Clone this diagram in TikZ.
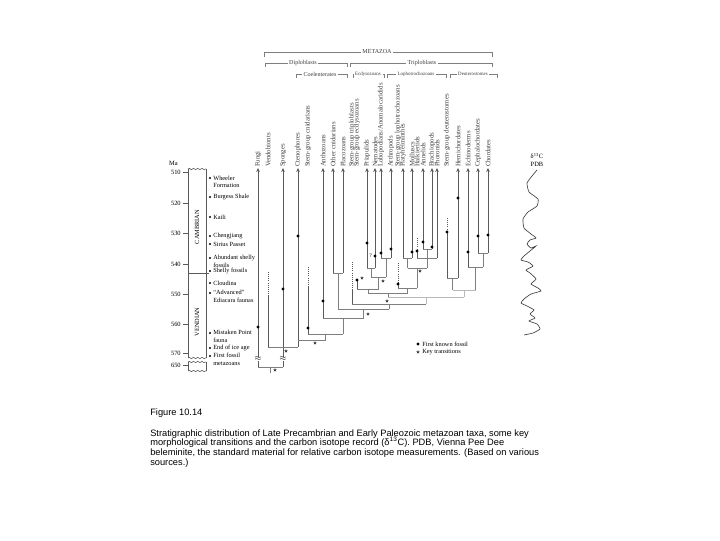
\documentclass[tikz,border=0pt]{standalone}
\usepackage{fontspec}
\setmainfont{Liberation Serif}
\newfontfamily\capfont{Liberation Sans}
\usepackage{xcolor}
\usepackage{tikz}
\usetikzlibrary{arrows.meta, positioning, shapes.geometric, decorations.pathmorphing}
\definecolor{metaInk}{HTML}{3C3C3C}
\definecolor{metaRange}{HTML}{5A5A5A}
\definecolor{metaLink}{HTML}{7E7E7E}
\definecolor{metaPale}{HTML}{B8B8B8}
\tikzset{
  meta/taxon/.style   = {rotate=90, anchor=west, inner sep=0.6pt, text=metaInk,
                         font=\fontsize{4.8}{5}\selectfont},
  meta/range/.style   = {{Stealth[length=1mm,width=0.9mm]}-, line width=0.6pt, draw=metaRange},
  meta/stem/.style    = {line width=0.6pt, draw=metaRange},
  meta/ghost/.style   = {line width=0.6pt, draw=metaRange, dash pattern=on 0.6pt off 0.9pt},
  meta/link/.style    = {line width=0.5pt, draw=metaLink},
  meta/pale/.style    = {line width=0.5pt, draw=metaPale},
  meta/key/.style     = {star, star points=5, star point ratio=2.2, fill=metaInk,
                         inner sep=0pt, minimum size=2.6pt},
  meta/brk/.style     = {fill=white, inner sep=0pt, font=\fontsize{5}{5}\selectfont},
  meta/group/.style   = {inner sep=1pt, text=metaInk, font=\fontsize{4.3}{5}\selectfont},
  meta/subgroup/.style= {inner sep=1pt, text=metaInk, font=\fontsize{3.5}{4}\selectfont},
  meta/brace/.style   = {line width=0.4pt, draw=metaLink},
  meta/axis/.style    = {line width=0.4pt, draw=metaRange},
  meta/wave/.style    = {line width=0.4pt, draw=metaRange, decorate,
                         decoration={snake, amplitude=0.5pt, segment length=3pt}},
  meta/age/.style     = {anchor=east, inner sep=0pt, font=\fontsize{4.6}{5}\selectfont},
  meta/period/.style  = {rotate=90, inner sep=0pt, font=\fontsize{4.5}{5}\selectfont},
  meta/event/.style   = {anchor=west, align=left, inner sep=0pt, font=\fontsize{4.5}{5.3}\selectfont},
  meta/caption/.style = {anchor=north west, align=left, inner sep=0pt,
                         font=\capfont\fontsize{6.6}{6.9}\selectfont},
}

\begin{document}
\begin{tikzpicture}[x=0.025cm, y=-0.025cm, every node/.style={font=\fontsize{4.6}{5}\selectfont}]
  \useasboundingbox[fill=white] (0,0) rectangle (720,540);
  % group brackets
  \node[meta/group] (metazoa) at (377,52) {METAZOA};
  \coordinate (mzL) at (264,57); \coordinate (mzR) at (492,57);
  \draw[meta/brace] (metazoa.west) -| (mzL);
  \draw[meta/brace] (metazoa.east) -| (mzR);
  \node[meta/group] (diplo) at (303,63) {Diploblasts};
  \coordinate (dpL) at (265,67); \coordinate (dpR) at (347,67);
  \draw[meta/brace] (diplo.west) -| (dpL);
  \draw[meta/brace] (diplo.east) -| (dpR);
  \node[meta/group] (triplo) at (422,63) {Triploblasts};
  \coordinate (tpL) at (350,67); \coordinate (tpR) at (492,67);
  \draw[meta/brace] (triplo.west) -| (tpL);
  \draw[meta/brace] (triplo.east) -| (tpR);
  \node[meta/group] (coel) at (320,74) {Coelenterates};
  \coordinate (ceL) at (296,78); \coordinate (ceR) at (347,78);
  \draw[meta/brace] (coel.west) -| (ceL);
  \draw[meta/brace] (coel.east) -| (ceR);
  \node[meta/subgroup] (ecdy) at (368,74) {Ecdysozoans};
  \coordinate (ecL) at (353,78); \coordinate (ecR) at (384,78);
  \draw[meta/brace] (ecdy.west) -| (ecL);
  \draw[meta/brace] (ecdy.east) -| (ecR);
  \node[meta/subgroup] (lopho) at (416,74) {Lophotrochozoans};
  \coordinate (lpL) at (387,78); \coordinate (lpR) at (446,78);
  \draw[meta/brace] (lopho.west) -| (lpL);
  \draw[meta/brace] (lopho.east) -| (lpR);
  \node[meta/subgroup] (deut) at (473,74) {Deuterostomes};
  \coordinate (dtL) at (450,78); \coordinate (dtR) at (497,78);
  \draw[meta/brace] (deut.west) -| (dtL);
  \draw[meta/brace] (deut.east) -| (dtR);

  % taxa
  \node[meta/taxon] (fungi)   at (258,168) {Fungi};
  \node[meta/taxon] (vendo)   at (268,168) {Vendobionts};
  \node[meta/taxon] (sponges) at (283,168) {Sponges};
  \node[meta/taxon] (cteno)   at (298,168) {Ctenophores};
  \node[meta/taxon] (scnid)   at (308,168) {Stem-group cnidarians};
  \node[meta/taxon] (antho)   at (323,168) {Anthozoans};
  \node[meta/taxon] (ocnid)   at (333,168) {Other cnidarians};
  \node[meta/taxon] (placo)   at (343,168) {Placozoans};
  \node[meta/taxon] (strip)   at (352,168) {Stem-group triploblasts};
  \node[meta/taxon] (secdy)   at (357,168) {Stem-group ecdysozoans};
  \node[meta/taxon] (priap)   at (367,168) {Priapulids};
  \node[meta/taxon] (nemat)   at (375,168) {Nematodes};
  \node[meta/taxon] (lobop)   at (381,168) {Lobopodians/Anomalocaridids};
  \node[meta/taxon] (arthr)   at (391,168) {Arthropods};
  \node[meta/taxon] (sloph)   at (398,168) {Stem-group lophotrochozoans};
  \node[meta/taxon] (platy)   at (403,168) {Platyhelminthes};
  \node[meta/taxon] (mollu)   at (412,168) {Molluscs};
  \node[meta/taxon] (halki)   at (417,168) {Halkieriids};
  \node[meta/taxon] (annel)   at (423,168) {Annelids};
  \node[meta/taxon] (brach)   at (432,168) {Brachiopods};
  \node[meta/taxon] (phoro)   at (437,168) {Phoronids};
  \node[meta/taxon] (sdeut)   at (447,168) {Stem-group deuterostomes};
  \node[meta/taxon] (hemic)   at (458,168) {Hemichordates};
  \node[meta/taxon] (echin)   at (468,168) {Echinoderms};
  \node[meta/taxon] (cepha)   at (478,168) {Cephalochordates};
  \node[meta/taxon] (chord)   at (488,168) {Chordates};

  % ranges of living groups
  \draw[meta/range] (fungi.west)   -- (258,367);
  \draw[meta/range] (sponges.west) -- (283,367);
  \draw[meta/range] (cteno.west)   -- (298,347);
  \draw[meta/range] (antho.west)   -- (323,318);
  \draw[meta/range] (ocnid.west)   -- (333,273);
  \draw[meta/range] (placo.west)   -- (343,273);
  \draw[meta/range] (priap.west)   -- (367,268);
  \draw[meta/range] (nemat.west)   -- (375,268);
  \draw[meta/range] (lobop.west)   -- (381,258);
  \draw[meta/range] (arthr.west)   -- (391,258);
  \draw[meta/range] (platy.west)   -- (403,258);
  \draw[meta/range] (mollu.west)   -- (412,258);
  \draw[meta/range] (annel.west)   -- (423,249);
  \draw[meta/range] (brach.west)   -- (432,249);
  \draw[meta/range] (phoro.west)   -- (437,258);
  \draw[meta/range] (hemic.west)   -- (458,278);
  \draw[meta/range] (echin.west)   -- (468,267);
  \draw[meta/range] (cepha.west)   -- (478,253);
  \draw[meta/range] (chord.west)   -- (488,253);
  % extinct stem groups
  \draw[meta/ghost] (268,272) -- (268,295); \draw[meta/stem] (268,295) -- (268,347);
  \draw[meta/ghost] (308,267) -- (308,287); \draw[meta/stem] (308,287) -- (308,334);
  \draw[meta/ghost] (352,262) -- (352,290); \draw[meta/stem] (352,290) -- (352,304);
  \draw[meta/stem]  (357,280) -- (357,289);
  \draw[meta/ghost] (398,263) -- (398,284); \draw[meta/stem] (398,284) -- (398,288);
  \draw[meta/ghost] (417,238) -- (417,251); \draw[meta/stem] (417,251) -- (417,258);
  \draw[meta/ghost] (447,218) -- (447,232); \draw[meta/stem] (447,232) -- (447,278);

  % branching
  \draw[meta/link] (367,268) -- (375,268) (371,268) -- (371,277)
                   (381,258) -- (391,258) (386,258) -- (386,277)
                   (371,277) -- (386,277) (378.5,277) -- (378.5,289)
                   (357,289) -- (378.5,289) (368,289) -- (368,293);
  \draw[meta/link] (403,258) -- (412,258) (407.5,258) -- (407.5,268)
                   (423,249) -- (432,249) (427.5,249) -- (427.5,258)
                   (417,258) -- (437,258) (427,258) -- (427,268)
                   (407.5,268) -- (427,268) (417,268) -- (417,288)
                   (398,288) -- (417,288) (407.5,288) -- (407.5,293)
                   (368,293) -- (407.5,293) (388,293) -- (388,297);
  \draw[meta/link] (447,278) -- (458,278) (452.5,278) -- (452.5,290)
                   (478,253) -- (488,253) (483,253) -- (483,267)
                   (468,267) -- (483,267) (475.5,267) -- (475.5,290);
  \draw[meta/pale] (452.5,290) -- (475.5,290) (464,290) -- (464,297)
                   (388,297) -- (464,297) (426,297) -- (426,304);
  \draw[meta/link] (333,273) -- (343,273) (338,273) -- (338,309)
                   (352,304) -- (426,304) (389,304) -- (389,309)
                   (338,309) -- (389,309) (363.5,309) -- (363.5,318)
                   (323,318) -- (363.5,318) (343,318) -- (343,334)
                   (308,334) -- (343,334) (325.5,334) -- (325.5,340)
                   (298,340) -- (325.5,340)
                   (268,347) -- (298,347)
                   (258,367) -- (283,367) (270.5,367) -- (270.5,373);
  \node[meta/brk] (brkF) at (258,359) {$\approx$};
  \node[meta/brk] (brkS) at (283,359) {$\approx$};

  % first known fossils
  \fill[black] (258,327) circle (1.2pt) (283,289) circle (1.2pt) (298,236) circle (1.2pt)
               (308,328) circle (1.2pt) (323,301) circle (1.2pt) (357,280) circle (1.2pt)
               (367,243) circle (1.2pt) (375,256) circle (1.2pt) (381,253) circle (1.2pt)
               (391,249) circle (1.2pt) (398,284) circle (1.2pt) (412,252) circle (1.2pt)
               (417,251) circle (1.2pt) (423,242) circle (1.2pt) (432,247) circle (1.2pt)
               (447,232) circle (1.2pt) (458,198) circle (1.2pt) (468,252) circle (1.2pt)
               (478,236) circle (1.2pt) (488,235) circle (1.2pt);
  \node[font=\fontsize{4}{4}\selectfont, inner sep=0pt] (query) at (370.5,256) {?};
  % key transitions
  \node[meta/key] (k1) at (275,370) {};
  \node[meta/key] (k2) at (286,351) {};
  \node[meta/key] (k3) at (315,343) {};
  \node[meta/key] (k4) at (368,314) {};
  \node[meta/key] (k5) at (387,301) {};
  \node[meta/key] (k6) at (362,278) {};
  \node[meta/key] (k7) at (383,281) {};
  \node[meta/key] (k8) at (420,271) {};

  % time scale
  \node[meta/age] (ma) at (178,163) {Ma};
  \node[meta/age] (a510) at (181,172) {510};
  \node[meta/age] (a520) at (181,203) {520};
  \node[meta/age] (a530) at (181,233) {530};
  \node[meta/age] (a540) at (181,264) {540};
  \node[meta/age] (a550) at (181,294) {550};
  \node[meta/age] (a560) at (181,324) {560};
  \node[meta/age] (a570) at (181,353) {570};
  \node[meta/age] (a650) at (181,365) {650};
  \draw[meta/axis] (183,172) -- (188,172) (183,203) -- (188,203) (183,233) -- (188,233)
                   (183,264) -- (188,264) (183,294) -- (188,294) (183,324) -- (188,324)
                   (183,353) -- (188,353) (183,365) -- (188,365);
  \draw[meta/axis] (188,169) -- (188,358) (206,169) -- (206,358)
                   (188,362) -- (188,371) (206,362) -- (206,371)
                   (188,273) -- (209,273);
  \draw[meta/wave] (188,169) -- (206,169);
  \draw[meta/wave] (188,358) -- (206,358);
  \draw[meta/wave] (188,362) -- (206,362);
  \draw[meta/wave] (188,371) -- (206,371);
  \node[meta/period] (camb) at (197,227) {CAMBRIAN};
  \node[meta/period] (vend) at (197,322) {VENDIAN};

  % events
  \fill[black] (210,178) circle (0.8pt) (210,197) circle (0.8pt) (210,217) circle (0.8pt)
               (210,236) circle (0.8pt) (210,244) circle (0.8pt) (210,258) circle (0.8pt)
               (210,271) circle (0.8pt) (210,283) circle (0.8pt) (210,293) circle (0.8pt)
               (210,333) circle (0.8pt) (210,348) circle (0.8pt) (210,356) circle (0.8pt);
  \node[meta/event] (wheeler) at (213,182) {Wheeler\\Formation};
  \node[meta/event] (burgess) at (213,197) {Burgess Shale};
  \node[meta/event] (kaili)   at (213,217) {Kaili};
  \node[meta/event] (cheng)   at (213,236) {Chengjiang};
  \node[meta/event] (sirius)  at (213,244) {Sirius Passet};
  \node[meta/event] (abund)   at (213,261.5) {Abundant shelly\\fossils};
  \node[meta/event] (shelly)  at (213,271) {Shelly fossils};
  \node[meta/event] (cloud)   at (213,283) {Cloudina};
  \node[meta/event] (advanc)  at (213,296.5) {``Advanced''\\Ediacara faunas};
  \node[meta/event] (mistak)  at (213,336.5) {Mistaken Point\\fauna};
  \node[meta/event] (iceage)  at (213,348) {End of ice age};
  \node[meta/event] (firstf)  at (213,359.5) {First fossil\\metazoans};

  % carbon isotope record
  \node[inner sep=0pt] (d13c) at (537,156) {δ\textsuperscript{13}C};
  \node[inner sep=0pt] (pdb)  at (537,164) {PDB};
  \draw[metaInk, line width=0.45pt] plot[smooth, tension=0.3] coordinates {
    (537,170) (532,176) (527,183) (529,192) (538,199) (537,206) (528,212) (523,219)
    (524,228) (531,234) (536,238) (530,240) (527,244) (531,248) (536,246) (530,251)
    (524,256) (521,260) (528,262) (533,266) (526,270) (530,273) (536,279) (531,284)
    (538,288) (541,291) (531,294) (524,299) (521,303) (527,306) (534,310) (530,314)
    (535,318) (529,321) (537,324) (540,329) (533,333) (524,335)};

  % legend
  \fill[black] (418,344) circle (1.2pt);
  \node[meta/event] (lgfossil) at (422,344) {First known fossil};
  \node[meta/key] (lgstar) at (418,352) {};
  \node[meta/event] (lgkey) at (422,352) {Key transitions};

  % caption
  \node[anchor=west, inner sep=0pt, font=\capfont\fontsize{6.6}{6.9}\selectfont] (fig) at (150,413) {Figure 10.14};
  \node[meta/caption] (cap) at (150,429)
       {Stratigraphic distribution of Late Precambrian and Early Paleozoic metazoan taxa, some key\\
        morphological transitions and the carbon isotope record (δ\smash{\textsuperscript{13}}C). PDB, Vienna Pee Dee\\
        beleminite, the standard material for relative carbon isotope measurements. (Based on various\\
        sources.)};
\end{tikzpicture}
\end{document}
